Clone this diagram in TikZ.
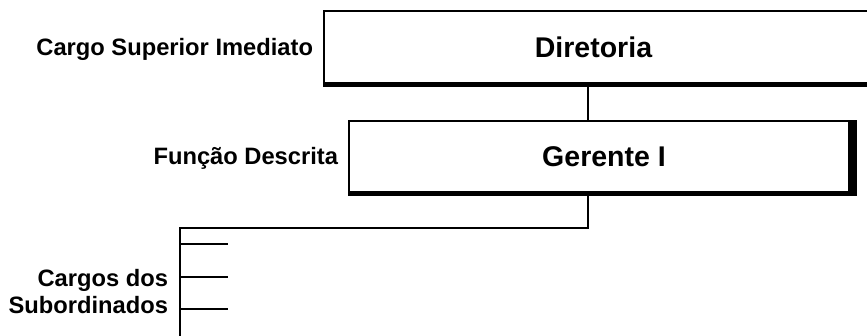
\documentclass[tikz,border=0pt]{standalone}
\usepackage{fontspec}
\setmainfont{Liberation Sans}
\usetikzlibrary{calc}
\begin{document}
\begin{tikzpicture}[x=1pt,y=-1pt,line width=2pt,
  lbl/.style={font=\fontsize{23.7}{27}\selectfont\bfseries,inner sep=0pt,outer sep=0pt},
  ttl/.style={font=\fontsize{28.5}{32}\selectfont\bfseries,inner sep=0pt,outer sep=0pt},
  boxframe/.style={draw,line width=2pt,inner sep=0pt,outer sep=0pt,anchor=north west},
  band/.style={fill=black,draw=none}]
\useasboundingbox (0,0) rectangle (867,335);
\clip (0,0) rectangle (867,335);
% Diretoria box
\node[boxframe,minimum width=556pt,minimum height=73.5pt] (dir) at (324,11) {};
\fill[band] ($(dir.south west)+(-1,-2.5)$) rectangle ($(dir.south east)+(0,2.5)$);
\node[ttl] (dirtxt) at (593.5,47.5) {Diretoria};
% Gerente box
\node[boxframe,minimum width=500pt,minimum height=71pt] (ger) at (348.5,121) {};
\fill[band] ($(ger.north east)+(-1,-1)$) rectangle ($(ger.south east)+(8.5,4)$);
\fill[band] ($(ger.south west)+(-1,-1)$) rectangle ($(ger.south east)+(8.5,4)$);
\node[ttl] (gertxt) at (604,157) {Gerente I};
% labels
\node[lbl,anchor=base east] (sup) at (313,55) {Cargo Superior Imediato};
\node[lbl,anchor=base east] (fun) at (338,164) {Função Descrita};
\node[lbl,anchor=east,align=right] (sub) at (168,292) {Cargos dos\\Subordinados};
% connectors
\coordinate (axis) at (588,0);
\coordinate (bus) at (180,228);
\coordinate (busend) at (180,345);
\coordinate (t1) at (228,244);
\coordinate (t2) at (228,276.5);
\coordinate (t3) at (228,308.5);
\draw (axis |- dir.south) -- (axis |- ger.north);
\draw (axis |- ger.south) |- (bus) -- (busend);
\draw (bus |- t1) -- (t1);
\draw (bus |- t2) -- (t2);
\draw (bus |- t3) -- (t3);
\end{tikzpicture}
\end{document}
